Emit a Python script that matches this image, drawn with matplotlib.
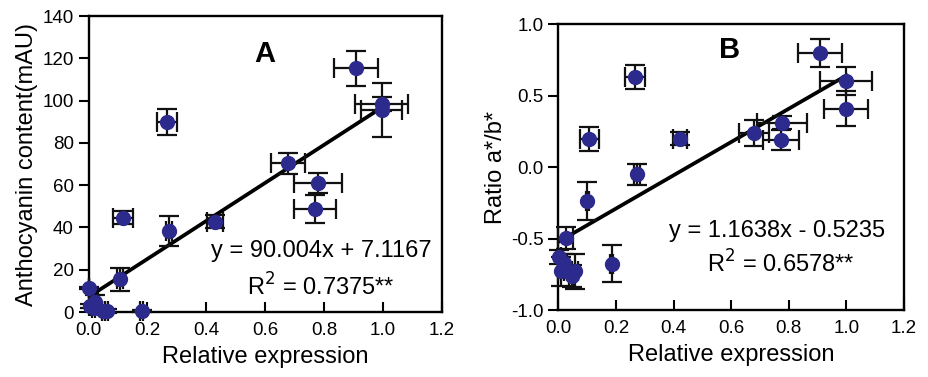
import matplotlib
matplotlib.use("Agg")
import matplotlib.pyplot as plt
import numpy as np

plt.rcParams['font.family'] = ['Liberation Sans', 'DejaVu Sans']

# Panel A data
a_x = [0.908, 0.995, 0.995, 0.265, 0.678, 0.780, 0.769, 0.116, 0.274, 0.430, 0.107, 0.003,
       0.005, 0.022, 0.017, 0.050, 0.062, 0.180]
a_y = [115.3, 98.4, 95.5, 89.7, 70.3, 60.9, 48.6, 44.6, 38.5, 42.7, 15.5, 11.2,
       3.0, 4.9, 1.7, 0.5, 0.3, 0.5]
a_xerr = [0.075, 0.090, 0.070, 0.034, 0.057, 0.081, 0.070, 0.034, 0.010, 0.028, 0.010, 0.0,
          0.005, 0.010, 0.005, 0.005, 0.005, 0.005]
a_yerr = [8.4, 3.5, 12.6, 6.1, 4.9, 4.7, 6.7, 3.0, 7.1, 3.0, 5.5, 0.5,
          1.0, 3.0, 1.0, 1.0, 1.0, 0.5]
a_slope, a_icept = 90.004, 7.1167

# Panel B data
b_x = [0.908, 0.998, 0.998, 0.266, 0.108, 0.422, 0.680, 0.775, 0.772, 0.272, 0.100,
       0.026, 0.003, 0.019, 0.009, 0.046, 0.058, 0.185]
b_y = [0.797, 0.601, 0.408, 0.629, 0.198, 0.198, 0.238, 0.310, 0.186, -0.052, -0.240,
       -0.497, -0.629, -0.669, -0.730, -0.762, -0.730, -0.676]
b_xerr = [0.077, 0.091, 0.077, 0.035, 0.032, 0.025, 0.053, 0.087, 0.063, 0.010, 0.005,
          0.026, 0.005, 0.010, 0.010, 0.010, 0.010, 0.005]
b_yerr = [0.097, 0.096, 0.124, 0.084, 0.085, 0.047, 0.091, 0.047, 0.070, 0.072, 0.134,
          0.078, 0.05, 0.06, 0.100, 0.08, 0.120, 0.130]
b_slope, b_icept = 1.1638, -0.5235

x_ticks = [0.0, 0.2, 0.4, 0.6, 0.8, 1.0, 1.2]
a_yticks = [0, 20, 40, 60, 80, 100, 120, 140]
b_yticks = [-1.0, -0.5, 0.0, 0.5, 1.0]

mcolor = '#2c2a8c'

fig = plt.figure(figsize=(9.29, 3.77), dpi=100)
axA = fig.add_axes([0.0953, 0.1724, 0.3805, 0.785])
axB = fig.add_axes([0.601, 0.1777, 0.3721, 0.7586])


def draw(ax, xs, ys, xe, ye, slope, icept):
    lx = np.array([0.0, 1.0])
    ax.plot(lx, slope * lx + icept, color='black', lw=2.7, zorder=2)
    ax.errorbar(xs, ys, xerr=xe, yerr=ye, fmt='o', color=mcolor, ms=10,
                ecolor='#111111', elinewidth=1.6, capsize=7, capthick=1.6,
                zorder=3, clip_on=False)
    for s in ax.spines.values():
        s.set_linewidth(1.7)
    ax.set_xlim(0, 1.2)
    ax.set_xticks(x_ticks)
    ax.set_xticklabels([f"{t:.1f}" for t in x_ticks])
    ax.tick_params(axis='x', direction='in', length=7, width=1.5, labelsize=13.5, pad=7)
    ax.tick_params(axis='y', direction='out', length=7, width=1.5, labelsize=13.5)
    ax.set_xlabel('Relative expression', fontsize=17, labelpad=5)


draw(axA, a_x, a_y, a_xerr, a_yerr, a_slope, a_icept)
axA.set_ylim(0, 140)
axA.set_yticks(a_yticks)
axA.set_ylabel('Anthocyanin content(mAU)', fontsize=17, labelpad=3)
axA.text(0.6, 122, 'A', fontsize=21, fontweight='bold', ha='center', va='center')
axA.text(0.79, 28.8, 'y = 90.004x + 7.1167', fontsize=17, ha='center', va='center')
axA.text(0.79, 12, r'R$^2$ = 0.7375**', fontsize=17, ha='center', va='center')

draw(axB, b_x, b_y, b_xerr, b_yerr, b_slope, b_icept)
axB.set_ylim(-1.0, 1.0)
axB.set_yticks(b_yticks)
axB.set_yticklabels([f"{t:.1f}" for t in b_yticks])
axB.set_ylabel('Ratio a*/b*', fontsize=17, labelpad=3)
axB.text(0.593, 0.815, 'B', fontsize=21, fontweight='bold', ha='center', va='center')
axB.text(0.758, -0.45, 'y = 1.1638x - 0.5235', fontsize=17, ha='center', va='center')
axB.text(0.77, -0.676, r'R$^2$ = 0.6578**', fontsize=17, ha='center', va='center')

fig.savefig('out.png', dpi=100)
